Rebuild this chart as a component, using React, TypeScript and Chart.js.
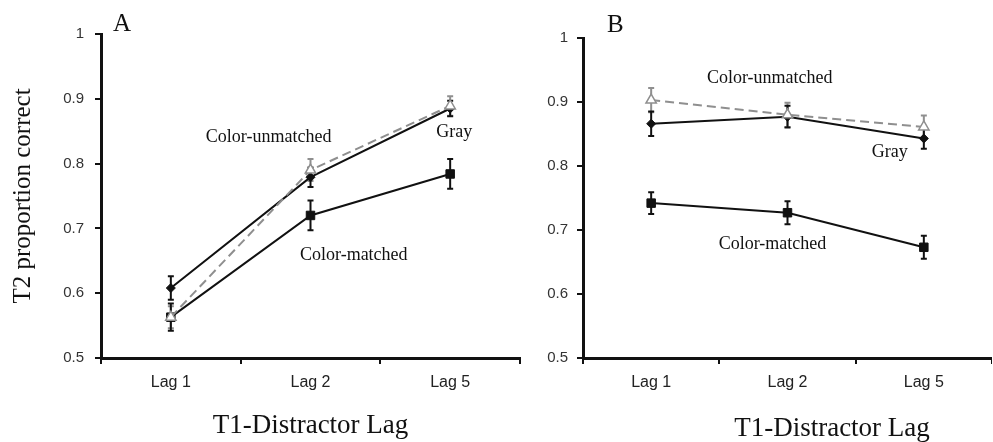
import React, { useEffect, useRef } from "react";
import { Chart, registerables } from "chart.js";

Chart.register(...registerables);

// ---------- data ----------
const categories = ["Lag 1", "Lag 2", "Lag 5"];
const yTickValues = [0.5, 0.6, 0.7, 0.8, 0.9, 1];
const xAxisTitle = "T1-Distractor Lag";
const yAxisTitle = "T2 proportion correct";

// Panel A
const aGray = [0.563, 0.79, 0.889];
const aGrayErr = [0.017, 0.017, 0.015];
const aUnmatched = [0.608, 0.779, 0.885];
const aUnmatchedErr = [0.018, 0.015, 0.012];
const aMatched = [0.563, 0.72, 0.784];
const aMatchedErr = [0.021, 0.023, 0.023];

// Panel B
const bGray = [0.903, 0.88, 0.861];
const bGrayErr = [0.019, 0.019, 0.018];
const bUnmatched = [0.866, 0.877, 0.843];
const bUnmatchedErr = [0.019, 0.017, 0.016];
const bMatched = [0.742, 0.727, 0.673];
const bMatchedErr = [0.017, 0.018, 0.018];

// text labels inside the plots: [text, category index (fractional), value]
const aLabels: [string, number, number][] = [
  ["Color-unmatched", 0.7, 0.841],
  ["Gray", 2.03, 0.849],
  ["Color-matched", 1.31, 0.659],
];
const bLabels: [string, number, number][] = [
  ["Color-unmatched", 0.87, 0.9375],
  ["Gray", 1.75, 0.822],
  ["Color-matched", 0.89, 0.677],
];

// ---------- styling ----------
const GRAY = "#8f8f8f";
const SERIF = "'Liberation Serif', 'Times New Roman', serif";
const SANS = "'Liberation Sans', Arial, sans-serif";

const errorBarPlugin = {
  id: "errorBars",
  beforeDatasetsDraw(chart: any) {
    const ctx = chart.ctx;
    const ys = chart.scales.y;
    chart.data.datasets.forEach((ds: any, i: number) => {
      const meta = chart.getDatasetMeta(i);
      meta.data.forEach((pt: any, j: number) => {
        const v = ds.data[j];
        const e = ds.errors[j];
        const top = ys.getPixelForValue(v + e);
        const bot = ys.getPixelForValue(v - e);
        ctx.save();
        ctx.strokeStyle = ds.errorColor;
        ctx.lineWidth = 2;
        ctx.beginPath();
        ctx.moveTo(pt.x, top);
        ctx.lineTo(pt.x, bot);
        ctx.moveTo(pt.x - 3, top);
        ctx.lineTo(pt.x + 3, top);
        ctx.moveTo(pt.x - 3, bot);
        ctx.lineTo(pt.x + 3, bot);
        ctx.stroke();
        ctx.restore();
      });
    });
  },
};

const textPlugin = {
  id: "panelText",
  afterDatasetsDraw(chart: any) {
    const opts = chart.options.plugins.panelText;
    const ctx = chart.ctx;
    const xs = chart.scales.x;
    const ys = chart.scales.y;
    const x0 = xs.getPixelForValue(0);
    const step = xs.getPixelForValue(1) - x0;
    ctx.save();
    ctx.fillStyle = "#111";
    ctx.textAlign = "center";
    ctx.textBaseline = "middle";
    ctx.font = `18px ${SERIF}`;
    opts.labels.forEach(([t, idx, v]: [string, number, number]) => {
      ctx.fillText(t, x0 + idx * step, ys.getPixelForValue(v));
    });
    // custom-placed x-axis title (panel B is shifted right in the original)
    if (opts.xTitle) {
      ctx.font = `27px ${SERIF}`;
      ctx.fillText(opts.xTitle, opts.xTitleX, opts.xTitleY);
    }
    ctx.textAlign = "left";
    ctx.textBaseline = "alphabetic";
    ctx.font = `25px ${SERIF}`;
    ctx.fillText(opts.panel, chart.chartArea.left + opts.panelDx, chart.chartArea.top + opts.panelDy);
    ctx.restore();
  },
};

function makeConfig(
  gray: number[],
  grayErr: number[],
  unmatched: number[],
  unmatchedErr: number[],
  matched: number[],
  matchedErr: number[],
  labels: [string, number, number][],
  panel: string,
  p: any
): any {
  return {
    type: "line",
    data: {
      labels: categories,
      datasets: [
        {
          label: "Gray",
          data: gray,
          errors: grayErr,
          errorColor: GRAY,
          borderColor: GRAY,
          borderWidth: 2,
          borderDash: [9, 5],
          pointStyle: "triangle",
          pointRadius: 6,
          pointBackgroundColor: "#ffffff",
          pointBorderColor: GRAY,
          pointBorderWidth: 1.5,
          tension: 0,
        },
        {
          label: "Color-unmatched",
          data: unmatched,
          errors: unmatchedErr,
          errorColor: "#111",
          borderColor: "#111",
          borderWidth: 2,
          pointStyle: "rectRot",
          pointRadius: 4.5,
          pointBorderWidth: 1,
          pointBackgroundColor: "#111",
          pointBorderColor: "#111",
          tension: 0,
        },
        {
          label: "Color-matched",
          data: matched,
          errors: matchedErr,
          errorColor: "#111",
          borderColor: "#111",
          borderWidth: 2,
          pointStyle: "rect",
          pointRadius: 6,
          pointBorderWidth: 1,
          pointBackgroundColor: "#111",
          pointBorderColor: "#111",
          tension: 0,
        },
      ],
    },
    options: {
      responsive: false,
      animation: false,
      layout: { autoPadding: false, padding: { top: p.top, right: p.right, left: 0, bottom: 0 } },
      plugins: {
        legend: { display: false },
        tooltip: { enabled: false },
        panelText: {
          labels,
          panel,
          panelDx: p.panelDx,
          panelDy: p.panelDy,
          xTitle: p.customXTitle ? xAxisTitle : null,
          xTitleX: p.xTitleX,
          xTitleY: p.xTitleY,
        },
      },
      scales: {
        x: {
          type: "category",
          offset: true,
          grid: {
            offset: true,
            drawOnChartArea: false,
            drawTicks: true,
            tickLength: 6,
            color: "#111",
            lineWidth: 2,
          },
          border: { display: true, color: "#111", width: 3 },
          ticks: {
            color: "#222",
            font: { family: SANS, size: 16 },
            padding: 9,
            maxRotation: 0,
          },
          title: {
            display: !p.customXTitle,
            text: xAxisTitle,
            color: "#111",
            font: { family: SERIF, size: 27, lineHeight: 1 },
            padding: { top: 0, bottom: p.xTitlePad },
          },
          afterFit(scale: any) {
            scale.height = 84;
            scale.paddingLeft = 0;
            scale.paddingRight = 0;
          },
        },
        y: {
          min: 0.5,
          max: 1,
          afterBuildTicks(scale: any) {
            scale.ticks = yTickValues.map((v) => ({ value: v }));
          },
          grid: {
            drawOnChartArea: false,
            drawTicks: true,
            tickLength: 6,
            color: "#111",
            lineWidth: 2,
          },
          border: { display: true, color: "#111", width: 3 },
          ticks: {
            color: "#333",
            font: { family: SANS, size: 15 },
            padding: p.yTickPad,
            callback: (v: number) => (v === 1 ? "1" : Number(v).toFixed(1)),
          },
          title: {
            display: p.showYTitle,
            text: yAxisTitle,
            color: "#111",
            font: { family: SERIF, size: 25, lineHeight: 1.2 },
            padding: { top: 8, bottom: 0 },
          },
          afterFit(scale: any) {
            scale.width = p.yWidth;
            scale.paddingTop = 0;
            scale.paddingBottom = 0;
          },
        },
      },
    },
    plugins: [errorBarPlugin, textPlugin],
  };
}

function Panel({ config, left, width }: { config: any; left: number; width: number }) {
  const ref = useRef<HTMLCanvasElement>(null);
  useEffect(() => {
    const chart = new Chart(ref.current as HTMLCanvasElement, config);
    return () => chart.destroy();
  }, [config]);
  return (
    <canvas
      ref={ref}
      width={width}
      height={442}
      style={{ position: "absolute", left, top: 0, width, height: 442 }}
    />
  );
}

const configA = makeConfig(aGray, aGrayErr, aUnmatched, aUnmatchedErr, aMatched, aMatchedErr, aLabels, "A", {
  top: 34,
  right: 20,
  yWidth: 101,
  yTickPad: 11,
  showYTitle: true,
  customXTitle: false,
  xTitlePad: 3,
  panelDx: 12,
  panelDy: -3,
});
const configB = makeConfig(bGray, bGrayErr, bUnmatched, bUnmatchedErr, bMatched, bMatchedErr, bLabels, "B", {
  top: 38,
  right: 0,
  yWidth: 48,
  yTickPad: 9,
  showYTitle: false,
  customXTitle: true,
  xTitleX: 297,
  xTitleY: 429,
  panelDx: 24,
  panelDy: -6,
});

export default function App() {
  return (
    <div
      style={{
        position: "fixed",
        left: 0,
        top: 0,
        width: 993,
        height: 442,
        background: "#fff",
        overflow: "hidden",
      }}
    >
      <Panel config={configA} left={0} width={540} />
      <Panel config={configB} left={535} width={457} />
    </div>
  );
}
